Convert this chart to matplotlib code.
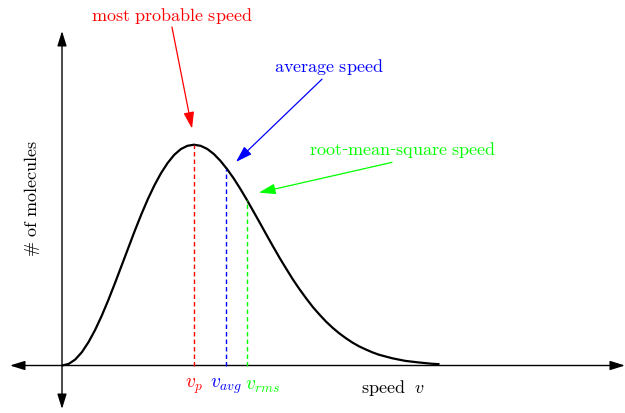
import matplotlib
matplotlib.use("Agg")
import matplotlib.pyplot as plt
from matplotlib.patches import FancyArrowPatch

plt.rcParams['mathtext.fontset'] = 'cm'
plt.rcParams['font.family'] = ['DejaVu Serif']

# speed in units of v_p, height in units of the peak
speed = [0.00, 0.05, 0.10, 0.15, 0.20, 0.25, 0.30, 0.35, 0.40, 0.45,
         0.50, 0.55, 0.60, 0.65, 0.70, 0.75, 0.80, 0.85, 0.90, 0.95,
         1.00, 1.05, 1.10, 1.15, 1.20, 1.25, 1.30, 1.35, 1.40, 1.45,
         1.50, 1.55, 1.60, 1.65, 1.70, 1.75, 1.80, 1.85, 1.90, 1.95,
         2.00, 2.05, 2.10, 2.15, 2.20, 2.25, 2.30, 2.35, 2.40, 2.50,
         2.60, 2.70, 2.80, 2.86]
molecules = [0.000, 0.007, 0.027, 0.060, 0.105, 0.160, 0.224, 0.295, 0.371, 0.450,
             0.529, 0.608, 0.683, 0.753, 0.816, 0.871, 0.917, 0.954, 0.980, 0.995,
             1.000, 0.995, 0.981, 0.958, 0.927, 0.890, 0.848, 0.801, 0.751, 0.698,
             0.645, 0.591, 0.538, 0.486, 0.437, 0.389, 0.345, 0.304, 0.265, 0.231,
             0.199, 0.171, 0.146, 0.124, 0.104, 0.087, 0.073, 0.060, 0.049, 0.033,
             0.021, 0.014, 0.008, 0.006]

marker_names = [r'$v_p$', r'$v_{avg}$', r'$v_{rms}$']
marker_speed = [1.00, 1.245, 1.40]
marker_height = [1.00, 0.89, 0.75]
marker_colors = ['#ff0000', '#0000ff', '#00ff00']
label_speed = [1.00, 1.245, 1.52]

fig = plt.figure(figsize=(6.25, 4.14), dpi=100)
ax = fig.add_axes([0, 0, 1, 1])
ax.set_xlim(-0.4697, 4.2652)
ax.set_ylim(-0.2151, 1.6599)
ax.axis('off')

FS = 13


def arrow(p0, p1, color, lw, hl, hw):
    ax.add_patch(FancyArrowPatch(p0, p1, arrowstyle=f'-|>,head_length={hl},head_width={hw}',
                                 mutation_scale=10, color=color, lw=lw,
                                 shrinkA=0, shrinkB=0))


# axes
arrow((0, 0), (4.265, 0), 'black', 1.0, 0.9, 0.28)
arrow((0, 0), (-0.394, 0), 'black', 1.0, 0.9, 0.28)
arrow((0, 0), (0, 1.515), 'black', 1.0, 0.9, 0.28)
arrow((0, 0), (0, -0.197), 'black', 1.0, 0.9, 0.28)

ax.plot(speed, molecules, color='black', lw=1.6, solid_capstyle='butt')

for s, h, c in zip(marker_speed, marker_height, marker_colors):
    ax.plot([s, s], [0, h], color=c, lw=1.0, dashes=(3.2, 2.2))

for name, s, c in zip(marker_names, label_speed, marker_colors):
    ax.text(s, -0.09, name, color=c, fontsize=14, ha='center', va='center')

ax.text(2.51, -0.098, r'$\mathrm{speed}\ \ v$', fontsize=FS, ha='center', va='center')
ax.text(-0.227, 0.76, r'$\#\ \mathrm{of\ molecules}$', fontsize=FS, ha='center', va='center',
        rotation=90)

# callouts
ax.text(0.833, 1.587, r'$\mathrm{most\ probable\ speed}$', color=marker_colors[0],
        fontsize=FS, ha='center', va='center')
arrow((0.833, 1.533), (0.985, 1.073), marker_colors[0], 0.9, 1.0, 0.32)

ax.text(2.023, 1.356, r'$\mathrm{average\ speed}$', color=marker_colors[1],
        fontsize=FS, ha='center', va='center')
arrow((1.97, 1.297), (1.318, 0.922), marker_colors[1], 0.9, 1.0, 0.32)

ax.text(2.583, 0.981, r'$\mathrm{root}$-$\mathrm{mean}$-$\mathrm{square\ speed}$', color=marker_colors[2],
        fontsize=FS, ha='center', va='center')
arrow((2.5, 0.92), (1.492, 0.783), marker_colors[2], 0.9, 1.0, 0.32)

fig.savefig('out.png', dpi=100)
